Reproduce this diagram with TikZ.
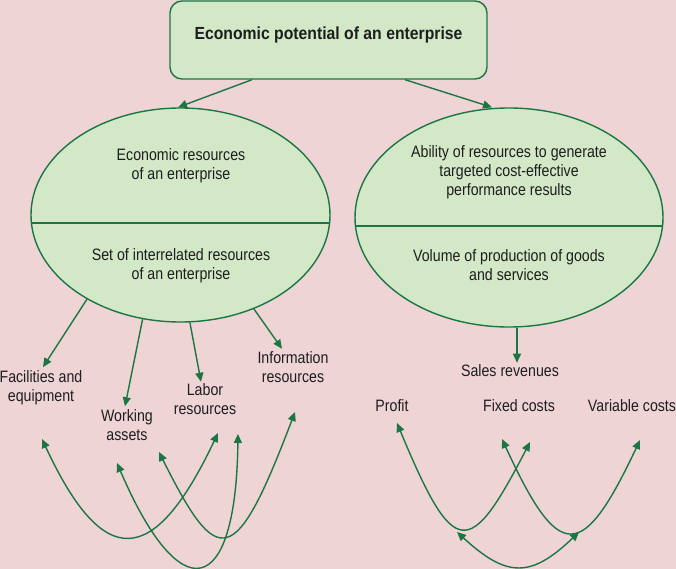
\documentclass[tikz,border=0pt]{standalone}
\usepackage{fontspec}
\setmainfont{Liberation Sans}[FakeStretch=0.86]
\newfontfamily\titlefont{Liberation Sans}[FakeStretch=0.9]
\usetikzlibrary{shapes.geometric,arrows.meta}
\definecolor{bgpink}{RGB}{239,212,214}
\definecolor{fillgreen}{RGB}{211,232,199}
\definecolor{lgreen}{RGB}{28,118,68}
\definecolor{txtc}{RGB}{30,30,30}
\begin{document}
\begin{tikzpicture}[x=1pt,y=-1pt,
  >={Triangle[length=9pt,width=8pt]},
  link/.style={draw=lgreen,line width=1.4pt},
  txt/.style={font=\fontsize{16.5}{19}\selectfont,text=txtc,align=center,inner sep=0pt},
  topbox/.style={draw=lgreen,fill=fillgreen,line width=1.4pt,rounded corners=12pt,
    minimum width=317pt,minimum height=78pt,inner sep=0pt},
  oval/.style={ellipse,draw=lgreen,fill=fillgreen,line width=1.4pt,inner sep=0pt}]
\fill[bgpink] (0,0) rectangle (676,569);
\useasboundingbox (0,0) rectangle (676,569);

% top box
\node[topbox] (top) at (328.5,40) {};
\node[inner sep=0pt,text=txtc,font=\titlefont\bfseries\fontsize{17.5}{20}\selectfont] (title) at (328.5,35) {Economic potential of an enterprise};

% ellipses
\node[oval,minimum width=299pt,minimum height=214pt,
  path picture={\draw[lgreen,line width=1.4pt] ([yshift=-8pt]path picture bounding box.west) -- ([yshift=-8pt]path picture bounding box.east);}] (el) at (180.5,215) {};
\node[oval,minimum width=308pt,minimum height=219pt,
  path picture={\draw[lgreen,line width=1.4pt] ([yshift=-8.5pt]path picture bounding box.west) -- ([yshift=-8.5pt]path picture bounding box.east);}] (er) at (509,217.5) {};

\node[txt] (e1t) at (181,166) {Economic resources\\of an enterprise};
\node[txt] (e1b) at (181,266) {Set of interrelated resources\\of an enterprise};
\node[txt] (e2t) at (509,172) {Ability of resources to generate\\targeted cost-effective\\performance results};
\node[txt] (e2b) at (509,265) {Volume of production of goods\\and services};

\draw[link,->] ([xshift=-76.5pt]top.south) -- ([xshift=-2.5pt]el.north);
\draw[link,->] ([xshift=76.5pt]top.south) -- ([xshift=-17pt]er.north);

% left labels
\node[txt] (fac) at (41,387.5) {Facilities and\\equipment};
\node[txt] (work) at (127,425) {Working\\assets};
\node[txt] (lab) at (205,399.5) {Labor\\resources};
\node[txt] (info) at (293,367.5) {Information\\resources};

\draw[link,->] (el.222.9) -- ([xshift=2pt,yshift=3pt]fac.north);
\draw[link,->] (el.250.3) -- ([xshift=-2pt,yshift=3pt]work.north);
\draw[link,->] (el.275.6) -- ([xshift=-4pt,yshift=2pt]lab.north);
\draw[link,->] (el.308.5) -- ([xshift=-11pt,yshift=3pt]info.north);

% right labels
\node[txt] (sales) at (510,371) {Sales revenues};
\node[txt] (profit) at (392,406) {Profit};
\node[txt] (fixed) at (519,406) {Fixed costs};
\node[txt] (var) at (632,406) {Variable costs};

\draw[link,->] ([xshift=8pt]er.south) -- ([xshift=7pt,yshift=2pt]sales.north);

% curve ends
\coordinate (a1) at (42,439);   \coordinate (a2) at (218,433);
\coordinate (b1) at (117,463);  \coordinate (b2) at (238,434);
\coordinate (c1) at (159,452);  \coordinate (c2) at (295,412);
\coordinate (d1) at (397,423);  \coordinate (d2) at (530,442);
\coordinate (f1) at (502,439);  \coordinate (f2) at (640,440);
\coordinate (g1) at (457,532);  \coordinate (g2) at (579,532);

\draw[link,<->] (a1) .. controls (103,570) and (153,570) .. (a2);
\draw[link,<->] (b1) .. controls (180,610) and (236,600) .. (b2);
\draw[link,<->] (c1) .. controls (218,570) and (235,570) .. (c2);
\draw[link,<->] (d1) .. controls (454,560) and (469,560) .. (d2);
\draw[link,<->] (f1) .. controls (559,563) and (582,563) .. (f2);
\draw[link,<->] (g1) .. controls (507,578) and (531,578) .. (g2);
\end{tikzpicture}
\end{document}
